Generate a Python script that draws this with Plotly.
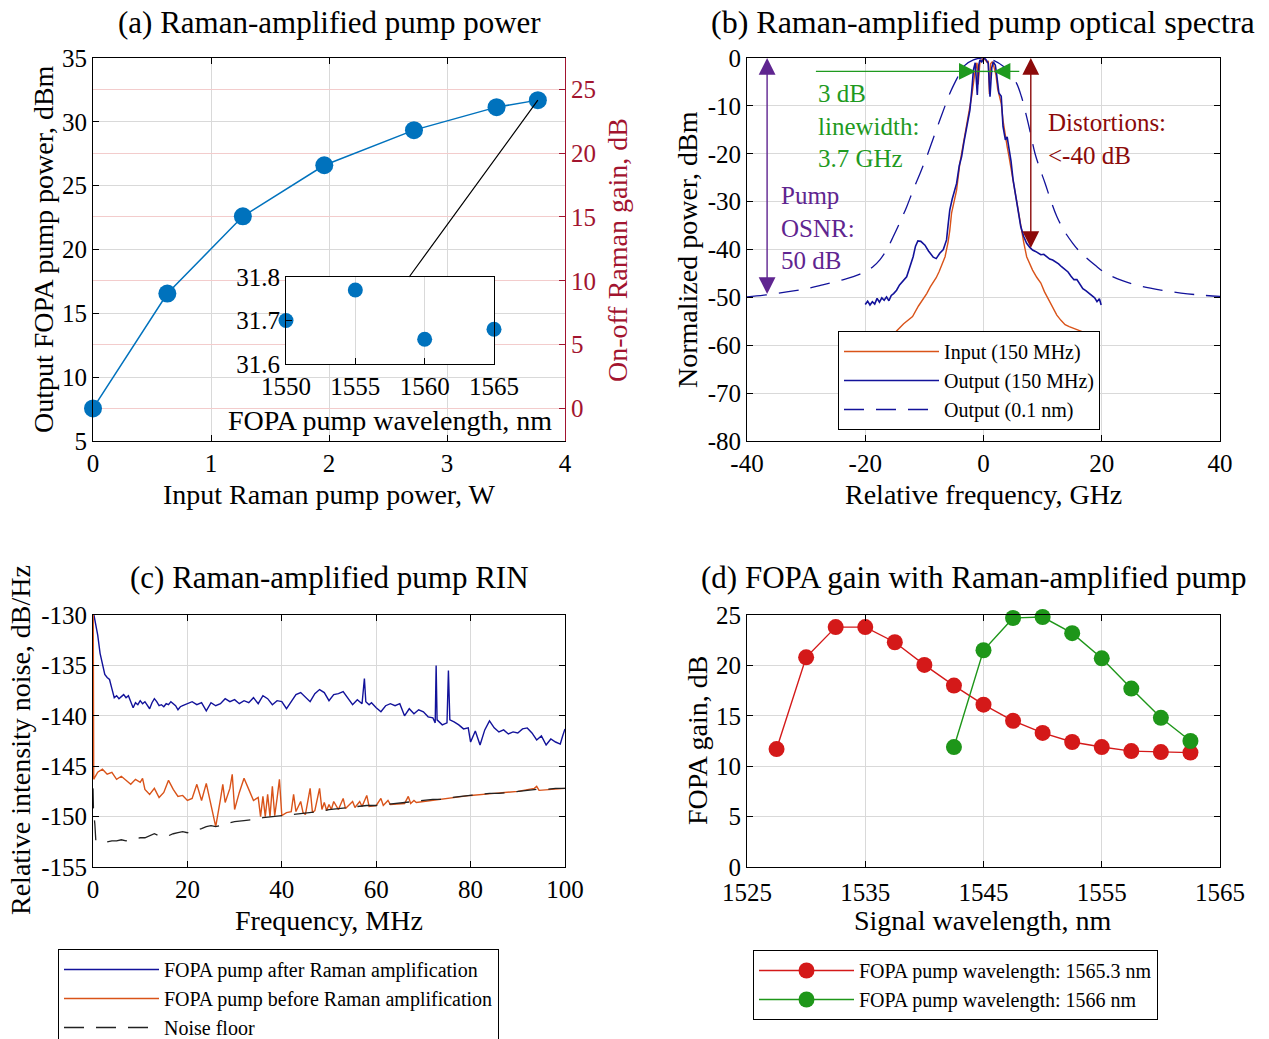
import plotly.graph_objects as go

# ---------------- (a) Raman-amplified pump power ----------------
pump_w = [0, 0.63, 1.27, 1.96, 2.72, 3.42, 3.77]
out_dbm = [7.55, 16.55, 22.6, 26.6, 29.35, 31.15, 31.7]
inset_wl = [1550, 1555, 1560, 1565]
inset_dbm = [31.70, 31.77, 31.657, 31.68]

# ---------------- (b) optical spectra ----------------
f_in = [-15.5, -14.7, -13.5, -12, -11, -10, -9.6, -9, -8, -7.5, -7, -6.5, -6.0, -5.7, -5.4, -5.0,
        -4.55, -4.0, -3.5, -3.1, -2.7, -2.3, -2.0, -1.7, -1.4, -1.1, -0.9, -0.6, -0.3, 0, 0.3, 0.6, 0.8, 1.0,
        1.2, 1.5, 1.8, 2.1, 2.4, 2.7, 3.0, 3.3, 3.7, 4.0, 4.3, 4.7, 5.0, 5.3, 5.6, 6.0, 6.3, 6.8, 7.3, 7.8,
        8.3, 9.0, 9.7, 10.3, 11.0, 11.7, 12.4, 13.1, 13.8, 14.5, 15.1, 15.7, 16.2, 17]
p_in = [-58.5, -57, -55.5, -54.0, -51.8, -50.0, -49.2, -47.8, -45.9, -44.6, -43.2, -41.5, -38.5,
        -36.0, -32.4, -30.0, -27.6, -22.0, -18.5, -15.7, -13.0, -10.9, -8.0, -5.3, -2.5, -1.0, -5.5, -0.8,
        -0.3, 0, -0.4, -0.9, -0.6, -7.5, -1.2, -0.8, -2.0, -3.5, -6.5, -8.0, -9.5, -13.0, -16.8, -18.5,
        -20.5, -23.5, -25.5, -28.0, -30.0, -33.0, -35.0, -38.5, -41.5, -43.0, -44.3, -45.8, -47.0, -48.8,
        -50.5, -52.2, -53.7, -54.8, -55.7, -56.1, -56.4, -56.7, -56.8, -57.3]
f_out = [-20, -19.6, -19.2, -18.8, -18.4, -18, -17.6, -17.2, -16.8, -16.4, -16, -15.6, -15.2, -14.7, -14.2,
         -13.6, -13.0, -12.5, -11.9, -11.5, -11.1, -10.6, -9.9, -9.3, -8.5, -8.0, -7.4, -6.8, -6.25, -6.0,
         -5.7, -5.3, -4.9, -4.55, -4.1, -3.7, -3.3, -2.85, -2.5, -2.3, -2.0, -1.7, -1.4, -1.05, -0.8, -0.6,
         -0.3, 0.1, 0.4, 0.8, 1.1, 1.4, 1.67, 2.0, 2.2, 2.6, 3.0, 3.3, 3.7, 4.0, 4.3, 4.65, 5.0, 5.3, 5.6,
         5.95, 6.3, 6.8, 7.3, 7.8, 8.3, 8.8, 9.3, 9.7, 10.2, 10.7, 11.2, 11.7, 12.2, 12.7, 13.2, 13.8, 14.3,
         14.8, 15.3, 15.8, 16.3, 16.8, 17.3, 17.8, 18.3, 18.8, 19.2, 19.6, 19.9]
p_out = [-51.5, -50.8, -51.6, -50.9, -51.4, -50.2, -51.0, -50.1, -50.6, -49.9, -50.7, -49.6, -49.2, -48.5,
         -47.4, -46.5, -45.7, -43.8, -41.5, -39.3, -38.2, -38.3, -39.1, -40.3, -41.6, -41.9, -40.8, -40.0,
         -38.0, -35.0, -31.7, -29.5, -27.8, -26.2, -22.5, -20.6, -17.5, -14.3, -12.5, -10.9, -7.0, -2.5,
         -1.0, -7.7, -1.5, -0.4, -0.8, 0, -0.3, -1.1, -8.1, -2.0, -0.8, -1.5, -3.2, -7.3, -8.0, -14.3, -17.1,
         -16.5, -18.8, -21.5, -25.4, -27.5, -29.6, -32.5, -35.2, -37.3, -38.7, -39.5, -40.1, -40.4, -40.8,
         -41.1, -41.0, -41.6, -42.0, -42.2, -42.6, -43.0, -43.6, -44.3, -44.7, -45.6, -46.3, -46.3, -47.3,
         -48.2, -48.6, -49.1, -49.6, -50.1, -50.9, -50.3, -51.6]
f_osa = [-40, -36.8, -33, -30, -27.2, -24, -21, -18.7, -17.5, -16.4, -15.3, -14.2, -13, -11.9, -10.7, -9.6,
         -8.5, -7.4, -6.5, -5.7, -4.5, -3.4, -1.7, 0, 1.7, 3.4, 4.5, 5.6, 6.4, 7.3, 8.0, 8.7, 9.5, 10.4,
         11.4, 12.4, 13.7, 15.1, 16.1, 17.2, 18.9, 20.6, 23.5, 26.7, 30, 33.4, 36.5, 40]
p_osa = [-49.9, -49.5, -48.8, -48.2, -47.4, -46.4, -45.2, -43.6, -42.1, -40.1, -37.4, -34.5, -31.1, -27.6,
         -24.0, -20.6, -16.8, -13.0, -10.0, -7.4, -4.3, -1.8, -0.4, 0, -0.5, -1.8, -3.3, -5.3, -8.0, -12.3,
         -16.0, -19.9, -23.0, -26.1, -29.8, -33.1, -36.2, -38.7, -40.2, -41.5, -43.3, -44.9, -46.5, -47.7,
         -48.5, -49.1, -49.5, -49.8]

# ---------------- (c) RIN ----------------
f_after = [0.2, 0.5, 1.0, 1.5, 2.0, 2.5, 3.0, 3.5, 4.0, 4.5, 5.0, 5.5, 6.0, 6.5, 7.0, 7.5, 8.0, 8.5, 9.0, 9.5,
           10.0, 10.5, 11.0, 11.5, 12.0, 12.5, 13.0, 13.5, 14.0, 14.5, 15.0, 15.5, 16.0, 16.5, 17.0, 17.5,
           18.0, 18.5, 19.0, 19.5, 20, 21, 22, 23, 24, 25, 26, 27, 28, 29, 30, 31, 32, 33, 34, 35, 36, 37,
           38, 39, 40, 41, 42, 43, 44, 45, 46, 47, 48, 49, 50, 51, 52, 53, 54, 55, 56, 57, 57.5, 57.8,
           58.5, 59, 60, 61, 62, 63, 64, 65, 66, 67, 68, 69, 70, 71, 72, 72.5, 72.7, 72.9, 74, 75, 75.3,
           75.6, 76.5, 77.5, 78.5, 79.5, 80, 81, 82, 83, 84, 85, 86, 87, 88, 89, 90, 91, 92, 93, 94, 95,
           96, 97, 98, 99, 99.5, 100]
rin_after = [-130.0, -130.8, -132.0, -133.8, -135.0, -135.9, -136.2, -136.4, -137.3, -138.2, -138.0, -138.3,
             -138.1, -137.9, -138.2, -138.0, -138.6, -139.2, -138.7, -138.9, -138.5, -138.8, -138.6, -139.0,
             -139.3, -138.7, -138.3, -138.6, -139.0, -138.9, -139.1, -138.8, -138.9, -138.6, -138.8, -139.0,
             -139.4, -139.1, -139.0, -138.9, -138.8, -138.6, -138.9, -138.7, -139.5, -138.7, -139.0, -138.8,
             -138.3, -138.6, -138.4, -138.8, -138.5, -138.7, -138.2, -138.8, -138.0, -138.3, -138.9, -138.5,
             -138.6, -139.3, -138.6, -137.9, -137.7, -138.2, -138.6, -137.8, -137.4, -137.7, -138.5, -137.9,
             -137.8, -137.6, -138.2, -138.9, -138.4, -138.8, -136.3, -138.6, -138.9, -138.7, -139.2, -139.6,
             -139.0, -138.8, -139.0, -138.8, -140.0, -139.3, -139.8, -139.4, -139.6, -140.1, -140.2, -140.7,
             -135.0, -140.4, -140.9, -140.7, -135.5, -140.4, -140.6, -140.9, -141.3, -141.2, -142.6, -141.5,
             -142.9, -141.4, -140.5, -141.2, -141.6, -141.4, -141.8, -141.6, -141.7, -141.3, -141.2, -141.7,
             -142.4, -142.0, -142.9, -142.3, -142.6, -142.8, -142.0, -141.3]
f_before = [0.05, 0.15, 0.5, 1, 2, 3, 4, 5, 6, 7, 8, 9, 10, 10.5, 11, 12, 13, 14, 15, 16, 17, 18, 19, 20, 21,
            22, 23, 24, 24.7, 25.3, 26, 27, 27.5, 28, 29, 29.5, 30, 31, 32, 33, 34, 35, 35.5, 36, 36.5, 37,
            37.5, 38, 38.5, 39, 39.5, 40, 41, 42, 42.5, 43, 44, 44.5, 45, 46, 46.5, 47, 48, 48.5, 49, 49.5,
            50, 50.5, 51, 52, 53, 53.5, 55, 55.5, 56.5, 57, 58, 58.5, 60, 61, 61.5, 62.5, 63, 66, 66.8, 67.3,
            68, 68.5, 70, 72, 75, 78, 80, 85, 90, 93.5, 94, 94.5, 97, 100]
rin_before = [-130.0, -146.3, -146.0, -145.6, -145.3, -145.8, -145.6, -146.3, -146.0, -146.4, -146.8, -146.3,
              -146.6, -146.2, -147.3, -147.8, -147.2, -148.1, -147.6, -146.4, -147.3, -148.0, -147.9, -148.4,
              -148.2, -146.8, -148.4, -146.7, -148.3, -149.5, -151.0, -148.3, -146.8, -148.6, -147.2, -145.8,
              -149.3, -147.6, -146.2, -147.3, -148.4, -148.1, -150.0, -148.0, -150.0, -147.8, -150.0, -147.0,
              -149.9, -148.2, -146.3, -149.9, -149.6, -149.5, -147.8, -149.5, -148.5, -149.6, -149.8, -147.2,
              -149.6, -149.4, -147.2, -149.3, -148.6, -149.4, -148.8, -149.3, -148.5, -149.3, -148.2, -149.2,
              -148.5, -149.1, -148.5, -149.0, -147.9, -149.0, -148.9, -148.2, -148.9, -148.4, -148.8, -148.7,
              -148.0, -148.7, -148.4, -148.6, -148.5, -148.4, -148.2, -148.0, -147.9, -147.7, -147.5, -147.2,
              -147.0, -147.4, -147.3, -147.2]
f_floor = [0, 0.1, 0.4, 0.6, 1.5, 3, 4, 5, 6, 7, 8, 9, 10, 11, 12, 13, 14, 15, 16, 17, 18, 19, 20, 21, 22, 23,
           24, 25, 26, 27, 28, 29, 30, 32, 34, 36, 38, 40, 42, 44, 46, 48, 50, 52, 54, 56, 58, 60, 62, 64, 66,
           68, 70, 72, 74, 76, 78, 80, 82, 84, 86, 88, 90, 92, 94, 96, 98, 100]
rin_floor = [-147.2, -149.3, -150.8, -152.4, -152.5, -152.5, -152.4, -152.4, -152.3, -152.4, -152.3, -152.2,
             -152.1, -152.1, -151.9, -151.7, -151.9, -152.0, -151.9, -151.7, -151.6, -151.5, -151.6, -151.4,
             -151.3, -151.2, -151.0, -150.9, -151.0, -150.9, -150.7, -150.6, -150.5, -150.4, -150.3, -150.1,
             -150.0, -149.9, -149.8, -149.7, -149.6, -149.5, -149.3, -149.2, -149.1, -149.0, -148.9, -148.9,
             -148.8, -148.7, -148.6, -148.5, -148.4, -148.3, -148.3, -148.1, -148.0, -147.9, -147.8, -147.7,
             -147.7, -147.6, -147.5, -147.4, -147.3, -147.3, -147.2, -147.2]

# ---------------- (d) FOPA gain ----------------
sig_red = [1527.5, 1530, 1532.5, 1535, 1537.5, 1540, 1542.5, 1545, 1547.5, 1550, 1552.5, 1555, 1557.5, 1560, 1562.5]
gain_red = [11.7, 20.8, 23.8, 23.8, 22.3, 20.05, 18.0, 16.1, 14.5, 13.3, 12.4, 11.9, 11.5, 11.4, 11.35]
sig_green = [1542.5, 1545, 1547.5, 1550, 1552.5, 1555, 1557.5, 1560, 1562.5]
gain_green = [11.9, 21.5, 24.7, 24.8, 23.2, 20.7, 17.7, 14.8, 12.5]

# ---------------- tick labels ----------------
a_xt = [0, 1, 2, 3, 4]
a_yt = [5, 10, 15, 20, 25, 30, 35]
a_y2t = [0, 5, 10, 15, 20, 25]
b_xt = [-40, -20, 0, 20, 40]
b_xl = ["-40", "-20", "0", "20", "40"]
b_yt = [0, -10, -20, -30, -40, -50, -60, -70, -80]
b_yl = ["0", "-10", "-20", "-30", "-40", "-50", "-60", "-70", "-80"]
c_xt = [0, 20, 40, 60, 80, 100]
c_yt = [-130, -135, -140, -145, -150, -155]
c_yl = ["-130", "-135", "-140", "-145", "-150", "-155"]
d_xt = [1525, 1535, 1545, 1555, 1565]
d_yt = [0, 5, 10, 15, 20, 25]
in_xt = [1550, 1555, 1560, 1565]
in_yt = [31.6, 31.7, 31.8]

FONT = "Liberation Serif, Times New Roman, serif"
W, H = 1269, 1039
TICK = 25
BLUE_A = "#0072BD"
DKRED = "#A2142F"
NAVY = "#12129a"
ORANGE = "#D95319"
GRID = "#d9d9d9"


def px(x):
    return x / W


def py(y):
    return 1 - y / H


def axis(domain, anchor, rng, tickvals, ticktext=None, mirror="ticks", grid=True, **kw):
    d = dict(domain=domain, anchor=anchor, range=rng, tickvals=tickvals, ticks="inside", ticklen=6,
             tickcolor="black", showline=True, linecolor="black", linewidth=1, mirror=mirror,
             showgrid=grid, gridcolor=GRID, gridwidth=1, zeroline=False, automargin=False,
             tickfont=dict(family=FONT, size=TICK, color="black"), fixedrange=True)
    if ticktext is not None:
        d["ticktext"] = ticktext
    d.update(kw)
    return d


XA = [px(93), px(565)]
XB = [px(747), px(1220)]
YT = [py(441), py(58)]
YB = [py(867), py(615)]

fig = go.Figure()

# (a)
fig.add_trace(go.Scatter(x=pump_w, y=out_dbm, mode="lines+markers", xaxis="x", yaxis="y",
                         line=dict(color=BLUE_A, width=1.5), marker=dict(size=18, color=BLUE_A),
                         cliponaxis=False, showlegend=False, hoverinfo="skip"))
fig.add_trace(go.Scatter(x=pump_w, y=[v - out_dbm[0] for v in out_dbm], mode="markers", xaxis="x", yaxis="y2",
                         marker=dict(size=1, opacity=0), showlegend=False, hoverinfo="skip"))
fig.add_trace(go.Scatter(x=inset_wl, y=inset_dbm, mode="markers", xaxis="x6", yaxis="y6",
                         marker=dict(size=15, color=BLUE_A), cliponaxis=False, showlegend=False, hoverinfo="skip"))

# (b)
fig.add_trace(go.Scatter(x=f_in, y=p_in, mode="lines", xaxis="x3", yaxis="y3", name="Input (150 MHz)",
                         line=dict(color=ORANGE, width=1.4), legend="legend"))
fig.add_trace(go.Scatter(x=f_out, y=p_out, mode="lines", xaxis="x3", yaxis="y3", name="Output (150 MHz)",
                         line=dict(color=NAVY, width=1.6), legend="legend"))
fig.add_trace(go.Scatter(x=f_osa, y=p_osa, mode="lines", xaxis="x3", yaxis="y3", name="Output (0.1 nm)",
                         line=dict(color=NAVY, width=1.3, dash="20px,12px", shape="spline"), legend="legend"))

# (c)
fig.add_trace(go.Scatter(x=f_after, y=rin_after, mode="lines", xaxis="x4", yaxis="y4",
                         name="FOPA pump after Raman amplification",
                         line=dict(color=NAVY, width=1.4), legend="legend2"))
fig.add_trace(go.Scatter(x=f_before, y=rin_before, mode="lines", xaxis="x4", yaxis="y4",
                         name="FOPA pump before Raman amplification",
                         line=dict(color=ORANGE, width=1.4), legend="legend2"))
fig.add_trace(go.Scatter(x=f_floor, y=rin_floor, mode="lines", xaxis="x4", yaxis="y4", name="Noise floor",
                         line=dict(color="#222222", width=1.3, dash="20px,12px"), legend="legend2"))

# (d)
fig.add_trace(go.Scatter(x=sig_red, y=gain_red, mode="lines+markers", xaxis="x5", yaxis="y5",
                         name="FOPA pump wavelength: 1565.3 nm", line=dict(color="#D41919", width=1.4),
                         marker=dict(size=16, color="#D41919"), cliponaxis=False, legend="legend3"))
fig.add_trace(go.Scatter(x=sig_green, y=gain_green, mode="lines+markers", xaxis="x5", yaxis="y5",
                         name="FOPA pump wavelength: 1566 nm", line=dict(color="#1E9619", width=1.4),
                         marker=dict(size=16, color="#1E9619"), cliponaxis=False, legend="legend3"))

# axes
fig.update_layout(
    xaxis=axis(XA, "y", [0, 4], a_xt),
    yaxis=axis(YT, "x", [5, 35], a_yt, mirror=False),
    yaxis2=dict(overlaying="y", side="right", anchor="x", range=[5 - out_dbm[0], 35 - out_dbm[0]],
                tickvals=a_y2t, ticks="inside", ticklen=6, tickcolor=DKRED, showline=True, linecolor=DKRED,
                showgrid=True, gridcolor="#f3cccc", zeroline=False, automargin=False, fixedrange=True,
                tickfont=dict(family=FONT, size=TICK, color=DKRED)),
    xaxis3=axis(XB, "y3", [-40, 40], b_xt, b_xl),
    yaxis3=axis(YT, "x3", [-80, 0], b_yt, b_yl),
    xaxis4=axis(XA, "y4", [0, 100], c_xt),
    yaxis4=axis(YB, "x4", [-155, -130], c_yt, c_yl),
    xaxis5=axis(XB, "y5", [1525, 1565], d_xt, ticklabelstandoff=3),
    yaxis5=axis(YB, "x5", [0, 25], d_yt),
    xaxis6=axis([px(286), px(494)], "y6", [1550, 1565], in_xt, mirror=True),
    yaxis6=axis([py(364), py(277)], "x6", [31.6, 31.8], in_yt, mirror=True, grid=False),
)

leg_common = dict(bgcolor="white", bordercolor="black", borderwidth=1, xanchor="left", yanchor="top",
                  font=dict(family=FONT, size=20, color="black"), tracegroupgap=0, itemwidth=95)
fig.update_layout(
    legend=dict(x=px(838), y=py(331), **leg_common),
    legend2=dict(x=px(58), y=py(949), **leg_common),
    legend3=dict(x=px(753), y=py(950), **leg_common),
)

ann = []


def text(x, y, s, size=28, color="black", angle=0, xanchor="center", yanchor="middle", align="center"):
    ann.append(dict(x=x, y=y, xref="paper", yref="paper", text=s, showarrow=False, textangle=angle,
                    xanchor=xanchor, yanchor=yanchor, align=align,
                    font=dict(family=FONT, size=size, color=color)))


# titles
text(px(329), py(22), "(a) Raman-amplified pump power", size=31)
text(px(983), py(22), "(b) Raman-amplified pump optical spectra", size=32)
text(px(329), py(577), "(c) Raman-amplified pump RIN", size=31)
text(px(974), py(577), "(d) FOPA gain with Raman-amplified pump", size=31)
# axis titles
text(px(329), py(495), "Input Raman pump power, W")
text(px(43), py(249), "Output FOPA pump power, dBm", angle=-90)
text(px(617), py(250), "On-off Raman gain, dB", angle=-90, color=DKRED)
text(px(390), py(420), "FOPA pump wavelength, nm")
text(px(983), py(495), "Relative frequency, GHz")
text(px(687), py(250), "Normalized power, dBm", angle=-90)
text(px(329), py(920), "Frequency, MHz")
text(px(20), py(740), "Relative intensity noise, dB/Hz", angle=-90)
text(px(983), py(920), "Signal wavelength, nm")
text(px(697), py(741), "FOPA gain, dB", angle=-90)

PURPLE = "#5f2590"
GREEN = "#1f9a1f"
BROWN = "#8c0a0a"


def data_text(x, y, s, color):
    ann.append(dict(x=x, y=y, xref="x3", yref="y3", text=s, showarrow=False, xanchor="left", yanchor="middle",
                    align="left", font=dict(family=FONT, size=25, color=color)))


def arrow(x, y, ax, ay, color, side="end", head=2, xr="x3", yr="y3", width=1.4, size=2.4):
    ann.append(dict(x=x, y=y, ax=ax, ay=ay, xref=xr, yref=yr, axref=xr, ayref=yr, text="", showarrow=True,
                    arrowhead=head, arrowside=side, arrowwidth=width, arrowsize=size, arrowcolor=color,
                    standoff=0, startstandoff=0))


# (b) annotations
arrow(-36.6, 0, -36.6, -49.6, PURPLE, side="end+start")
arrow(8.0, 0, 8.0, -40, BROWN, side="end+start")
arrow(-1.3, -2.8, -28.6, -2.8, GREEN)
arrow(1.7, -2.8, 6.3, -2.8, GREEN)
data_text(-34.6, -35.6, "Pump<br>OSNR:<br>50 dB", PURPLE)
data_text(-28.4, -14.2, "3 dB<br>linewidth:<br>3.7 GHz", GREEN)
data_text(10.6, -17.0, "Distortions:<br>&lt;-40 dB", BROWN)

# (a) connector from inset to last point
arrow(pump_w[-1], out_dbm[-1], 2.67, 17.73, "black", head=0, xr="x", yr="y", width=1.2, size=1)

fig.update_layout(
    annotations=ann,
    shapes=[dict(type="line", xref="x3", yref="y3", x0=-1.3, x1=1.7, y0=-2.8, y1=-2.8,
                 line=dict(color=GREEN, width=1.4))],
    width=W, height=H,
    margin=dict(l=0, r=0, t=0, b=0, autoexpand=False),
    paper_bgcolor="white", plot_bgcolor="white",
    font=dict(family=FONT, size=22, color="black"),
)

fig.write_html("out.html", config={"displayModeBar": False},
               post_script="document.body.style.margin='0px';")
